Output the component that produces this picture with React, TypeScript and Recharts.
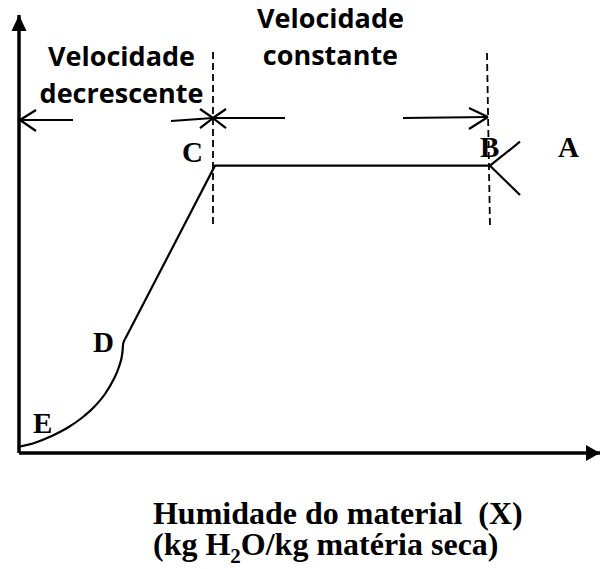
import React from 'react';
import { LineChart, Line, XAxis, YAxis, ReferenceLine, ReferenceDot } from 'recharts';

// Drying-rate curve, in relative units (moisture X: 0–100, rate: 0–100)

// Falling-rate period, curved part E → D
const fallingCurve = [
  { x: 0, y: 1.44 },
  { x: 2.75, y: 2.35 },
  { x: 5.63, y: 3.88 },
  { x: 8.49, y: 5.87 },
  { x: 10.79, y: 7.99 },
  { x: 13.08, y: 10.73 },
  { x: 14.8, y: 13.47 },
  { x: 16.23, y: 16.67 },
  { x: 17.21, y: 19.7 },
  { x: 17.78, y: 22.76 },
  { x: 17.95, y: 25.05 },
  { x: 18.24, y: 25.96 },
];

// Linear falling-rate D → C, then constant rate C → B
const rateLine = [
  { x: 18.24, y: 25.96 },
  { x: 33.73, y: 65.6 },
  { x: 81.07, y: 65.6 },
];

// Initial adjustment period A → B (two possible starts)
const upperStart = [
  { x: 81.07, y: 65.6 },
  { x: 86.23, y: 71.07 },
];
const lowerStart = [
  { x: 81.07, y: 65.6 },
  { x: 86.23, y: 58.9 },
];

// Dashed boundaries at the critical moisture (C) and at B
const boundaryLines = [
  [{ x: 33.39, y: 91.55 }, { x: 33.39, y: 51.37 }],
  [{ x: 80.55, y: 91.32 }, { x: 81.07, y: 51.37 }],
];

// Range arrows (shafts and heads)
const arrowSegments = [
  // falling-rate range, pointing to the origin
  [{ x: 0.17, y: 76.03 }, { x: 9.29, y: 76.03 }],
  [{ x: 0.17, y: 76.03 }, { x: 2.93, y: 78.31 }],
  [{ x: 0.17, y: 76.03 }, { x: 2.93, y: 73.52 }],
  // falling-rate range, pointing to C
  [{ x: 26.16, y: 75.8 }, { x: 33.39, y: 76.48 }],
  [{ x: 33.39, y: 76.48 }, { x: 31.15, y: 78.54 }],
  [{ x: 33.39, y: 76.48 }, { x: 31.15, y: 74.2 }],
  // constant-rate range, pointing to C
  [{ x: 33.39, y: 76.48 }, { x: 45.78, y: 76.48 }],
  [{ x: 33.39, y: 76.48 }, { x: 35.63, y: 78.54 }],
  [{ x: 33.39, y: 76.48 }, { x: 35.63, y: 74.2 }],
  // constant-rate range, pointing to B
  [{ x: 66.09, y: 76.48 }, { x: 80.72, y: 76.71 }],
  [{ x: 80.72, y: 76.71 }, { x: 77.45, y: 78.77 }],
  [{ x: 80.72, y: 76.71 }, { x: 77.45, y: 73.97 }],
];

// Point letters along the curve
const pointLabels = [
  { text: 'C', x: 28.06, y: 66.44 },
  { text: 'B', x: 79.35, y: 67.58 },
  { text: 'A', x: 92.77, y: 67.58 },
  { text: 'D', x: 12.74, y: 23.06 },
  { text: 'E', x: 2.41, y: 4.57 },
];

// Period names
const periodLabels = [
  { text: 'Velocidade', x: 17.64, y: 88.36 },
  { text: 'decrescente', x: 17.64, y: 79.91 },
  { text: 'Velocidade', x: 53.61, y: 97.03 },
  { text: 'constante', x: 53.61, y: 88.58 },
];

// X-axis title (two lines), anchored below the axis
const xTitleAnchor = { x: 23.06, y: -16.2 };
const xTitle = ['Humidade do material', '(X)'];
const xUnit = ['(kg H', '2', 'O/kg matéria seca)'];

const SERIF = '"Liberation Serif", "Times New Roman", serif';
const SANS = '"Open Sans", "Noto Sans", sans-serif';

const letterShape = (text: string) => (p: any) => (
  <text x={p.cx} y={p.cy} fontFamily={SERIF} fontWeight="bold" fontSize={29} fill="#000">
    {text}
  </text>
);

const periodShape = (text: string) => (p: any) => (
  <text
    x={p.cx}
    y={p.cy}
    textAnchor="middle"
    fontFamily={SANS}
    fontWeight="bold"
    fontSize={27}
    fill="#000"
  >
    {text}
  </text>
);

const axisTitle = (p: any) => (
  <text x={p.cx} y={p.cy} fontFamily={SERIF} fontWeight="bold" fontSize={32} fill="#000">
    <tspan>{xTitle[0]}</tspan>
    <tspan dx={16}>{xTitle[1]}</tspan>
    <tspan x={p.cx} dy={31}>{xUnit[0]}</tspan>
    <tspan fontSize={21} dy={8}>{xUnit[1]}</tspan>
    <tspan dy={-8}>{xUnit[2]}</tspan>
  </text>
);

const upArrowHead = (p: any) => (
  <polygon points={`${p.cx},${p.cy} ${p.cx - 7.5},${p.cy + 16} ${p.cx + 7.5},${p.cy + 16}`} fill="#000" />
);

const rightArrowHead = (p: any) => (
  <polygon points={`${p.cx},${p.cy} ${p.cx - 14},${p.cy - 8} ${p.cx - 14},${p.cy + 8}`} fill="#000" />
);

export default function App() {
  return (
    <div style={{ position: 'absolute', left: 0, top: 0, background: '#fff' }}>
      <LineChart width={600} height={569} margin={{ top: 15, right: 0, bottom: 116, left: 19 }}>
        <XAxis type="number" dataKey="x" domain={[0, 100]} allowDataOverflow hide />
        <YAxis type="number" dataKey="y" domain={[0, 100]} allowDataOverflow hide />

        {/* axes */}
        <ReferenceLine x={0} stroke="#000" strokeWidth={3.5} />
        <ReferenceLine y={0} stroke="#000" strokeWidth={3.5} />
        <ReferenceDot x={0} y={100} ifOverflow="visible" shape={upArrowHead} />
        <ReferenceDot x={100} y={0} ifOverflow="visible" shape={rightArrowHead} />

        {boundaryLines.map((seg, i) => (
          <ReferenceLine
            key={`b${i}`}
            segment={seg}
            stroke="#000"
            strokeWidth={1.8}
            strokeDasharray="7 4"
            ifOverflow="visible"
          />
        ))}

        {arrowSegments.map((seg, i) => (
          <ReferenceLine key={`a${i}`} segment={seg} stroke="#000" strokeWidth={2.2} ifOverflow="visible" />
        ))}

        <Line data={fallingCurve} dataKey="y" type="monotone" stroke="#000" strokeWidth={2.2} dot={false} isAnimationActive={false} />
        <Line data={rateLine} dataKey="y" type="linear" stroke="#000" strokeWidth={2.2} dot={false} isAnimationActive={false} />
        <Line data={upperStart} dataKey="y" type="linear" stroke="#000" strokeWidth={2.2} dot={false} isAnimationActive={false} />
        <Line data={lowerStart} dataKey="y" type="linear" stroke="#000" strokeWidth={2.2} dot={false} isAnimationActive={false} />

        {pointLabels.map((l, i) => (
          <ReferenceDot key={`p${i}`} x={l.x} y={l.y} ifOverflow="visible" shape={letterShape(l.text)} />
        ))}
        {periodLabels.map((l, i) => (
          <ReferenceDot key={`v${i}`} x={l.x} y={l.y} ifOverflow="visible" shape={periodShape(l.text)} />
        ))}

        <ReferenceDot x={xTitleAnchor.x} y={xTitleAnchor.y} ifOverflow="visible" shape={axisTitle} />
      </LineChart>
    </div>
  );
}
